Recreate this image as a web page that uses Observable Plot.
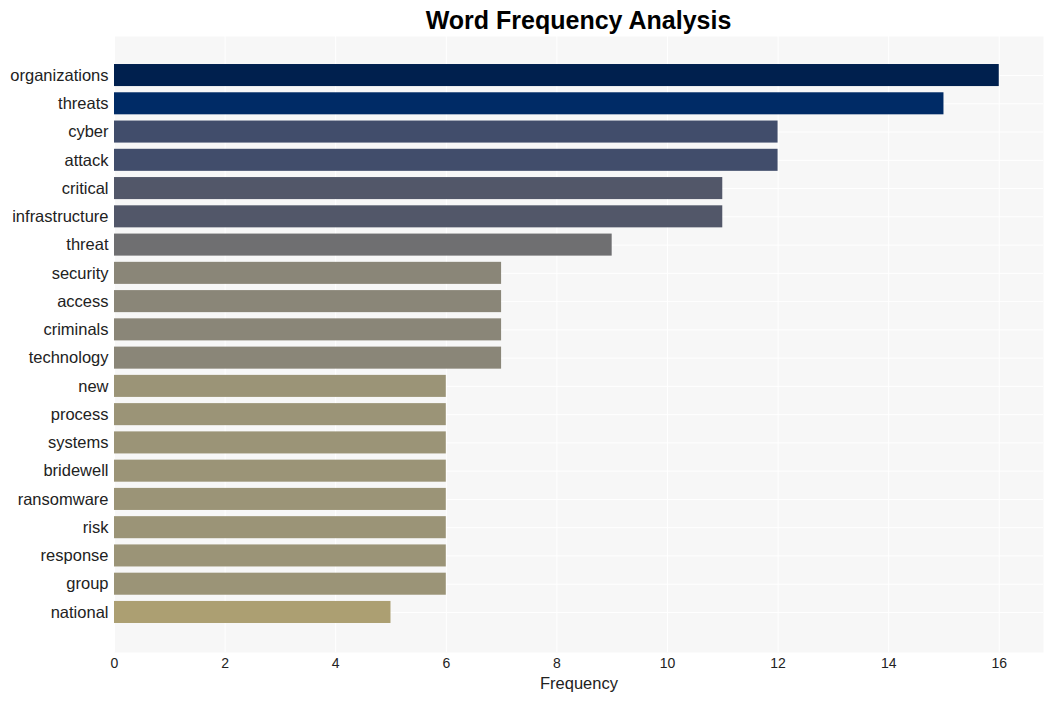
<!DOCTYPE html>
<html>
<head>
<meta charset="utf-8">
<script src="https://cdn.jsdelivr.net/npm/d3@7"></script>
<script src="https://cdn.jsdelivr.net/npm/@observablehq/plot@0.6"></script>
<style>
  body { margin: 0; background: #fff; font-family: "Liberation Sans", Arial, sans-serif; }
  #title { height: 36px; width: 929px; margin-left: 114px; text-align: center; font-weight: bold; font-size: 25px; line-height: 40px; color: #000; white-space: nowrap; }
  #chart svg { display: block; }
</style>
</head>
<body>
<div id="title">Word Frequency Analysis</div>
<div id="chart"></div>
<script>
const words = ["organizations","threats","cyber","attack","critical","infrastructure","threat","security","access","criminals","technology","new","process","systems","bridewell","ransomware","risk","response","group","national"];
const counts = [16,15,12,12,11,11,9,7,7,7,7,6,6,6,6,6,6,6,6,5];
const colors = ["#00204e","#002b66","#414d6b","#414d6b","#525769","#525769","#6f6f71","#8a8678","#8a8678","#8a8678","#8a8678","#9b9477","#9b9477","#9b9477","#9b9477","#9b9477","#9b9477","#9b9477","#9b9477","#ac9f72"];
const xTicks = [0,2,4,6,8,10,12,14,16];

const data = words.map((w, i) => ({word: w, count: counts[i], color: colors[i]}));

const chart = Plot.plot({
  width: 1053,
  height: 665,
  marginTop: 0,
  marginBottom: 49,
  marginLeft: 114,
  marginRight: 10,
  style: {fontFamily: "'Liberation Sans', Arial, sans-serif", background: "#fff", color: "#333"},
  x: {domain: [0, 16.8], ticks: xTicks, label: null},
  y: {domain: words, range: [21.8, 593.2], padding: 0.22, round: false, label: null},
  marks: [
    Plot.frame({fill: "#f7f7f7", stroke: null}),
    Plot.gridX(xTicks, {stroke: "#fff", strokeOpacity: 1, strokeWidth: 1}),
    Plot.gridY(words, {stroke: "#fff", strokeOpacity: 1, strokeWidth: 1}),
    Plot.barX(data, {x: "count", y: "word", fill: "color"}),
    Plot.axisY({tickSize: 0, tickPadding: 6, fontSize: 16.5, label: null, fill: "#222"}),
    Plot.axisX(xTicks, {tickSize: 0, tickPadding: 6, fontSize: 14, label: null, fill: "#222"}),
    Plot.text(["Frequency"], {frameAnchor: "bottom", dy: 36, fontSize: 16.5, fill: "#222"})
  ]
});
document.getElementById("chart").appendChild(chart);
</script>
</body>
</html>
